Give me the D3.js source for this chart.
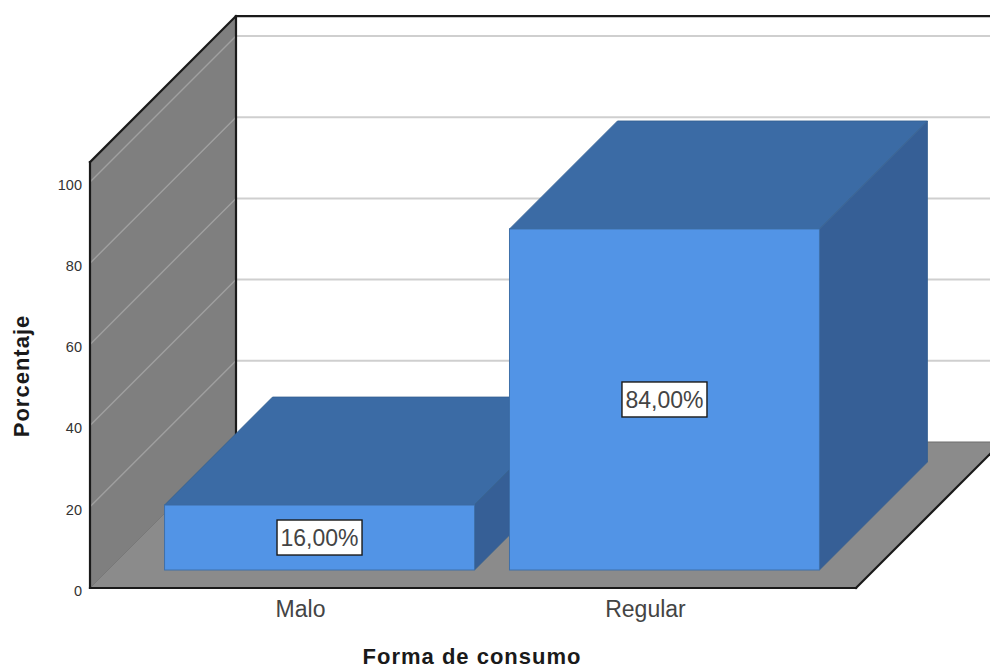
<!DOCTYPE html>
<html>
<head>
<meta charset="utf-8">
<script src="https://cdn.jsdelivr.net/npm/d3@7/dist/d3.min.js"></script>
<style>
html,body{margin:0;padding:0;background:#fff;}
svg{display:block;font-family:"Liberation Sans",Arial,sans-serif;}
</style>
</head>
<body>
<svg id="chart" width="990" height="668"></svg>
<script>
// Values
const categories = ["Malo", "Regular"];
const percentages = [16, 84];
const valueLabels = ["16,00%", "84,00%"];
const yTicks = [0, 20, 40, 60, 80, 100];
const xTitle = "Forma de consumo";
const yTitle = "Porcentaje";

// Frame of the oblique 3D box
const frontLeft = 90, frontRight = 856, frontBase = 588;
const boxDepth = 146, barDepth = 108, barInsetX = 19, barInsetY = 18;
const wallTopValue = 104.9;

const svg = d3.select("#chart");
const x = d3.scaleBand().domain(categories).range([frontLeft, frontRight])
  .paddingInner(0.1014).paddingOuter(0.161);
const y = d3.scaleLinear().domain([0, 100]).range([frontBase, 182]);
const poly = pts => pts.map(p => p.join(",")).join(" ");

const topFront = y(wallTopValue);

// Side wall and floor
svg.append("polygon").attr("fill", "#7f7f7f").attr("points", poly([
  [frontLeft, frontBase], [frontLeft, topFront],
  [frontLeft + boxDepth, topFront - boxDepth], [frontLeft + boxDepth, frontBase - boxDepth]]));
svg.append("polygon").attr("fill", "#8b8b8b").attr("points", poly([
  [frontLeft, frontBase], [frontRight, frontBase],
  [frontRight + boxDepth, frontBase - boxDepth], [frontLeft + boxDepth, frontBase - boxDepth]]));

// Gridlines across the side wall and the back wall; the zero line stays faint
const grid = svg.append("g").attr("fill", "none");
grid.selectAll(".wall").data(yTicks).join("line").attr("class", "wall")
  .attr("x1", frontLeft).attr("y1", d => y(d))
  .attr("x2", frontLeft + boxDepth).attr("y2", d => y(d) - boxDepth)
  .attr("stroke", d => d === 0 ? "#787878" : "#a0a0a0").attr("stroke-width", d => d === 0 ? 1 : 1.4);
grid.selectAll(".back").data(yTicks.filter(d => d > 0)).join("line").attr("class", "back")
  .attr("x1", frontLeft + boxDepth).attr("y1", d => y(d) - boxDepth)
  .attr("x2", 990).attr("y2", d => y(d) - boxDepth)
  .attr("stroke", "#cfcfcf").attr("stroke-width", 2);
grid.append("line")
  .attr("x1", frontLeft + boxDepth).attr("y1", frontBase - boxDepth)
  .attr("x2", 990).attr("y2", frontBase - boxDepth)
  .attr("stroke", "#6f6f6f").attr("stroke-width", 1.2);

// Frame lines
const frame = [
  [[frontLeft, frontBase], [frontLeft, topFront]],
  [[frontLeft, topFront], [frontLeft + boxDepth, topFront - boxDepth]],
  [[frontLeft + boxDepth, topFront - boxDepth], [frontLeft + boxDepth, frontBase - boxDepth]],
  [[frontLeft + boxDepth, topFront - boxDepth], [990, topFront - boxDepth]],
  [[frontLeft, frontBase], [frontRight, frontBase]],
  [[frontRight, frontBase], [frontRight + boxDepth, frontBase - boxDepth]]
];
svg.append("g").selectAll("line").data(frame).join("line")
  .attr("x1", d => d[0][0]).attr("y1", d => d[0][1])
  .attr("x2", d => d[1][0]).attr("y2", d => d[1][1])
  .attr("stroke", "#1a1a1a").attr("stroke-width", 2.2).attr("stroke-linecap", "square");

// Bars: top, side and front faces
const bars = svg.append("g").selectAll("g")
  .data(categories.map((c, i) => ({ c, v: percentages[i], label: valueLabels[i] })))
  .join("g");
const barLeft = d => x(d.c) + barInsetX;
const barRight = d => x(d.c) + barInsetX + x.bandwidth();
const barBase = frontBase - barInsetY;
const barTop = d => barBase - (frontBase - y(d.v));

bars.append("polygon").attr("fill", "#3b6ba5").attr("stroke", "#34608f").attr("stroke-width", 0.8)
  .attr("points", d => poly([[barLeft(d), barTop(d)], [barRight(d), barTop(d)],
    [barRight(d) + barDepth, barTop(d) - barDepth], [barLeft(d) + barDepth, barTop(d) - barDepth]]));
bars.append("polygon").attr("fill", "#365f96").attr("stroke", "#34608f").attr("stroke-width", 0.8)
  .attr("points", d => poly([[barRight(d), barTop(d)], [barRight(d) + barDepth, barTop(d) - barDepth],
    [barRight(d) + barDepth, barBase - barDepth], [barRight(d), barBase]]));
bars.append("rect").attr("fill", "#5294e6").attr("stroke", "#3f70aa").attr("stroke-width", 1)
  .attr("x", barLeft).attr("y", barTop)
  .attr("width", x.bandwidth()).attr("height", d => barBase - barTop(d));

// Value labels in boxes on the front faces
const boxW = 85, boxH = 35;
bars.append("rect").attr("fill", "#fff").attr("stroke", "#1a1a1a").attr("stroke-width", 1.4)
  .attr("x", d => (barLeft(d) + barRight(d)) / 2 - boxW / 2)
  .attr("y", d => (barTop(d) + barBase) / 2 - boxH / 2)
  .attr("width", boxW).attr("height", boxH);
bars.append("text").attr("text-anchor", "middle").attr("fill", "#444")
  .attr("font-size", 23)
  .attr("x", d => (barLeft(d) + barRight(d)) / 2)
  .attr("y", d => (barTop(d) + barBase) / 2 + 8.5)
  .text(d => d.label);

// Value axis
const yAxis = svg.append("g").attr("transform", `translate(${frontLeft},0)`)
  .call(d3.axisLeft(y).tickValues(yTicks).tickSize(0).tickPadding(8).tickFormat(d3.format("d")));
yAxis.select(".domain").remove();
yAxis.selectAll("text").attr("font-size", 14.5).attr("fill", "#333")
  .attr("font-family", "inherit").attr("dy", "0.5em");

// Category axis
const xAxis = svg.append("g").attr("transform", `translate(0,${frontBase})`)
  .call(d3.axisBottom(x).tickSize(0).tickPadding(13));
xAxis.select(".domain").remove();
xAxis.selectAll("text").attr("font-size", 23).attr("fill", "#444").attr("font-family", "inherit");

// Axis titles
svg.append("text").attr("x", 472).attr("y", 664).attr("text-anchor", "middle")
  .attr("font-size", 22).attr("letter-spacing", 1).attr("font-weight", "bold").attr("fill", "#1a1a1a").text(xTitle);
svg.append("text").attr("transform", "translate(29,376) rotate(-90)").attr("text-anchor", "middle")
  .attr("font-size", 22).attr("letter-spacing", 1).attr("font-weight", "bold").attr("fill", "#1a1a1a").text(yTitle);
</script>
</body>
</html>
